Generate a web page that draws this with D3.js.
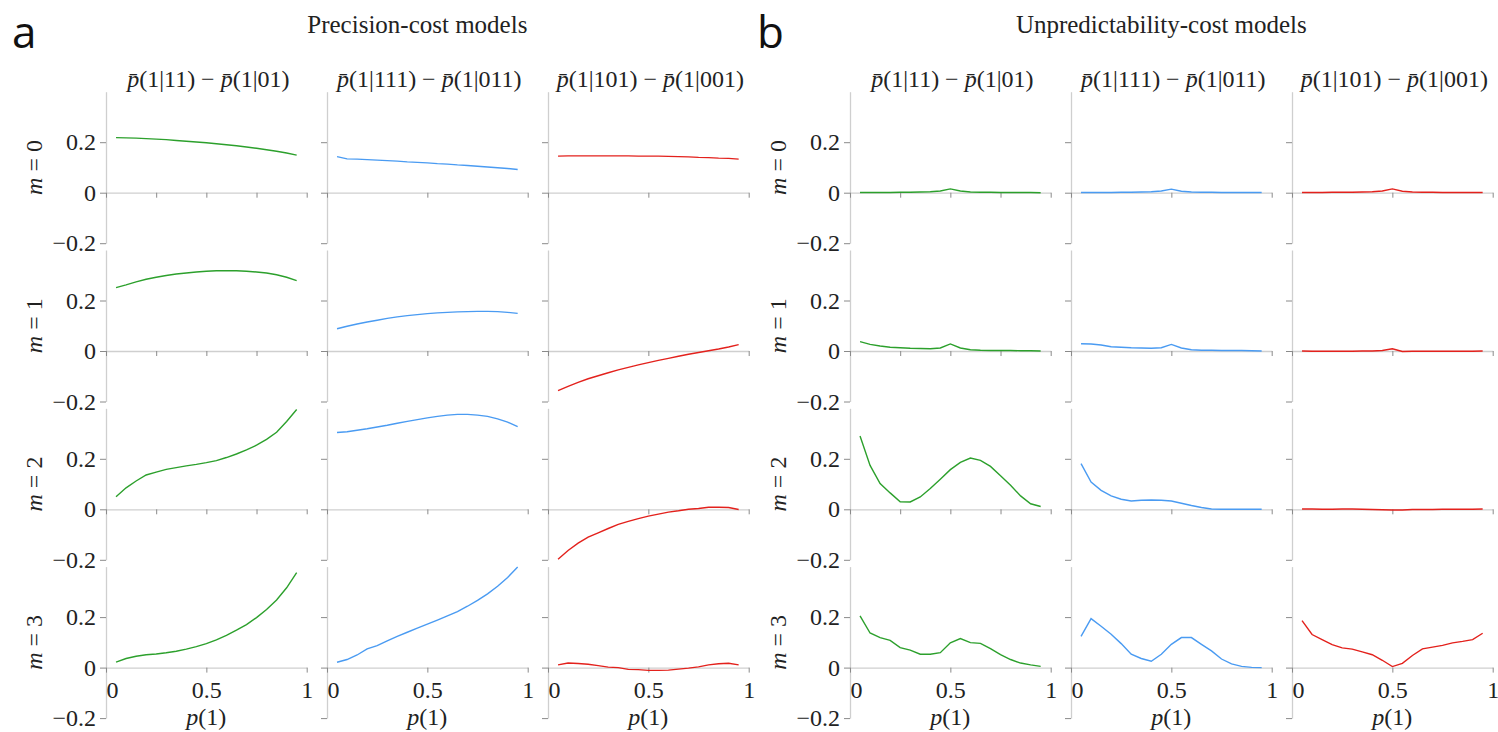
<!DOCTYPE html>
<html>
<head>
<meta charset="utf-8">
<script src="https://cdn.jsdelivr.net/npm/d3@7"></script>
<style>
  body { margin: 0; background: #fff; }
  svg text, svg tspan { font-family: "Liberation Serif", "DejaVu Serif", serif; fill: #222; white-space: pre; }
</style>
</head>
<body>
<div id="chart"></div>
<script>
// p(1) values where every curve is sampled
const pGrid = [0.05, 0.1, 0.15, 0.2, 0.25, 0.3, 0.35, 0.4, 0.45, 0.5,
               0.55, 0.6, 0.65, 0.7, 0.75, 0.8, 0.85, 0.9, 0.95];

const groupLetters = ["a", "b"];
const groupTitles = ["Precision-cost models", "Unpredictability-cost models"];
const colConditions = [["11", "01"], ["111", "011"], ["101", "001"]];
const rowLabels = ["0", "1", "2", "3"];
const yTickValues = [-0.2, 0, 0.2];
const xTickValues = [0, 0.5, 1];
const xTickValuesFine = [0, 0.25, 0.5, 0.75, 1];
const seriesColors = ["#2ca02c", "#4a9bf2", "#e3211c"];

// precision-cost models: [green, blue, red] for each m
const precM0 = [
  [0.218, 0.217, 0.216, 0.214, 0.212, 0.210, 0.207, 0.204, 0.201, 0.198, 0.194, 0.190, 0.186, 0.181, 0.176, 0.170, 0.164, 0.157, 0.149],
  [0.143, 0.134, 0.133, 0.131, 0.129, 0.127, 0.125, 0.122, 0.120, 0.118, 0.115, 0.113, 0.110, 0.108, 0.105, 0.102, 0.099, 0.096, 0.092],
  [0.145, 0.146, 0.146, 0.146, 0.146, 0.146, 0.146, 0.146, 0.145, 0.145, 0.145, 0.144, 0.143, 0.142, 0.140, 0.139, 0.137, 0.136, 0.133]
];
const precM1 = [
  [0.251, 0.262, 0.274, 0.284, 0.292, 0.299, 0.305, 0.309, 0.313, 0.316, 0.318, 0.318, 0.318, 0.316, 0.313, 0.309, 0.302, 0.292, 0.279],
  [0.088, 0.098, 0.107, 0.115, 0.122, 0.129, 0.135, 0.140, 0.144, 0.148, 0.151, 0.153, 0.155, 0.156, 0.157, 0.157, 0.156, 0.153, 0.149],
  [-0.157, -0.140, -0.124, -0.110, -0.098, -0.086, -0.075, -0.065, -0.055, -0.046, -0.037, -0.029, -0.021, -0.013, -0.006, 0.001, 0.008, 0.016, 0.025]
];
const precM2 = [
  [0.050, 0.085, 0.112, 0.136, 0.147, 0.158, 0.165, 0.172, 0.178, 0.185, 0.193, 0.205, 0.219, 0.235, 0.254, 0.277, 0.305, 0.348, 0.395],
  [0.304, 0.307, 0.313, 0.319, 0.326, 0.333, 0.341, 0.348, 0.355, 0.362, 0.368, 0.373, 0.376, 0.376, 0.373, 0.368, 0.358, 0.345, 0.327],
  [-0.198, -0.163, -0.134, -0.110, -0.093, -0.076, -0.060, -0.048, -0.037, -0.027, -0.019, -0.011, -0.006, 0.000, 0.003, 0.008, 0.008, 0.007, -0.001]
];
const precM3 = [
  [0.022, 0.036, 0.045, 0.051, 0.054, 0.059, 0.065, 0.073, 0.083, 0.095, 0.110, 0.128, 0.148, 0.170, 0.198, 0.230, 0.268, 0.316, 0.376],
  [0.021, 0.032, 0.050, 0.074, 0.087, 0.106, 0.124, 0.140, 0.156, 0.172, 0.188, 0.205, 0.222, 0.243, 0.266, 0.292, 0.322, 0.357, 0.398],
  [0.011, 0.018, 0.016, 0.013, 0.008, 0.002, 0.000, -0.007, -0.008, -0.011, -0.011, -0.010, -0.006, -0.002, 0.003, 0.011, 0.015, 0.017, 0.011]
];

// unpredictability-cost models
const unpM0 = [
  [0.001, 0.001, 0.001, 0.001, 0.002, 0.002, 0.003, 0.004, 0.007, 0.015, 0.007, 0.003, 0.002, 0.002, 0.001, 0.001, 0.001, 0.001, 0.000],
  [0.001, 0.001, 0.001, 0.001, 0.002, 0.002, 0.003, 0.004, 0.007, 0.014, 0.006, 0.003, 0.002, 0.002, 0.001, 0.001, 0.001, 0.001, 0.001],
  [0.001, 0.001, 0.001, 0.002, 0.002, 0.002, 0.003, 0.004, 0.007, 0.015, 0.006, 0.003, 0.002, 0.002, 0.001, 0.001, 0.001, 0.001, 0.001]
];
const unpM1 = [
  [0.037, 0.026, 0.020, 0.015, 0.013, 0.011, 0.010, 0.009, 0.012, 0.028, 0.012, 0.005, 0.003, 0.002, 0.002, 0.002, 0.001, 0.001, 0.000],
  [0.029, 0.028, 0.024, 0.017, 0.015, 0.013, 0.012, 0.011, 0.013, 0.026, 0.012, 0.005, 0.003, 0.003, 0.002, 0.002, 0.002, 0.001, 0.000],
  [0.000, -0.001, -0.001, -0.001, -0.001, -0.001, 0.000, 0.000, 0.002, 0.009, -0.002, -0.001, -0.001, -0.001, -0.001, -0.001, -0.001, -0.001, 0.000]
];
const unpM2 = [
  [0.290, 0.174, 0.102, 0.065, 0.030, 0.029, 0.049, 0.082, 0.119, 0.157, 0.186, 0.203, 0.194, 0.170, 0.133, 0.095, 0.053, 0.022, 0.011],
  [0.181, 0.108, 0.075, 0.053, 0.040, 0.033, 0.036, 0.037, 0.036, 0.033, 0.024, 0.015, 0.007, 0.001, 0.000, 0.000, 0.000, 0.000, 0.000],
  [0.001, 0.001, 0.000, 0.000, 0.001, 0.001, 0.000, -0.001, -0.002, -0.003, -0.003, -0.001, -0.001, -0.001, 0.000, 0.000, 0.000, 0.000, 0.001]
];
const unpM3 = [
  [0.205, 0.137, 0.119, 0.108, 0.079, 0.069, 0.053, 0.053, 0.059, 0.098, 0.115, 0.099, 0.096, 0.075, 0.051, 0.032, 0.018, 0.011, 0.005],
  [0.124, 0.194, 0.164, 0.132, 0.095, 0.053, 0.036, 0.025, 0.053, 0.092, 0.119, 0.119, 0.092, 0.066, 0.034, 0.015, 0.005, 0.001, 0.000],
  [0.186, 0.131, 0.111, 0.091, 0.078, 0.073, 0.062, 0.051, 0.029, 0.004, 0.017, 0.048, 0.074, 0.081, 0.088, 0.098, 0.104, 0.111, 0.136]
];

const groups = [
  [precM0, precM1, precM2, precM3],
  [unpM0, unpM1, unpM2, unpM3]
];

document.addEventListener("DOMContentLoaded", function() {
  drawFigure();
});

function drawFigure() {
  const width = 1498;
  const height = 732;
  const groupLeft = [106, 850];
  const colStep = 221;
  const panelW = 200.7;
  const rowTop = 91.7;
  const rowStep = 158.3;
  const panelH = 151.5;
  const axisColor = "#cfcfcf";
  const tickColor = "#8a8a8a";
  const serif = "'Liberation Serif', 'DejaVu Serif', serif";

  const svg = d3.select("#chart")
    .append("svg")
    .attr("width", width)
    .attr("height", height);

  const fmt = d => d === 0 ? "0" : (d < 0 ? "\u2212" : "") + Math.abs(d);

  groups.forEach((rows, gi) => {
    const gx = groupLeft[gi];

    // panel letter and group title
    svg.append("text")
      .attr("x", gx - 94 + (gi === 1 ? 1 : 0))
      .attr("y", 48)
      .style("font-family", "'Open Sans', sans-serif")
      .style("font-size", "44px")
      .style("fill", "#111")
      .text(groupLetters[gi]);

    svg.append("text")
      .attr("x", gx + colStep + panelW / 2 - 10)
      .attr("y", 33)
      .attr("text-anchor", "middle")
      .style("font-family", serif)
      .style("font-size", "25px")
      .text(groupTitles[gi]);

    colConditions.forEach((cond, ci) => {
      const t = svg.append("text")
        .attr("x", gx + ci * colStep + panelW / 2 + 2)
        .attr("y", 87)
        .attr("text-anchor", "middle")
        .style("font-family", serif)
        .style("font-size", "24px");
      t.append("tspan").style("font-style", "italic").text("p\u0304");
      t.append("tspan").text("(1|" + cond[0] + ") \u2212 ");
      t.append("tspan").style("font-style", "italic").text("p\u0304");
      t.append("tspan").text("(1|" + cond[1] + ")");
    });

    rows.forEach((series, ri) => {
      const top = rowTop + ri * rowStep;
      const y = d3.scaleLinear()
        .domain([-0.2, 0.4])
        .range([top + panelH, top]);

      // row label m = k
      const lab = svg.append("text")
        .attr("transform", `translate(${gx - 64},${top + panelH / 2}) rotate(-90)`)
        .attr("text-anchor", "middle")
        .style("font-family", serif)
        .style("font-size", "24px");
      lab.append("tspan").style("font-style", "italic").text("m");
      lab.append("tspan").text(" = " + rowLabels[ri]);

      series.forEach((vals, ci) => {
        const x0 = gx + ci * colStep;
        const x = d3.scaleLinear().domain([0, 1]).range([x0, x0 + panelW]);
        const last = ri === rows.length - 1;

        const yAx = svg.append("g")
          .attr("transform", `translate(${x0},0)`)
          .call(d3.axisLeft(y)
            .tickValues(yTickValues)
            .tickSize(6)
            .tickSizeOuter(0)
            .tickPadding(4)
            .tickFormat(ci === 0 ? fmt : ""));

        const xAx = svg.append("g")
          .attr("transform", `translate(0,${y(0)})`)
          .call(d3.axisBottom(x)
            .tickValues(ci === 0 && !last ? xTickValuesFine : xTickValues)
            .tickSize(5)
            .tickSizeOuter(0)
            .tickPadding(8)
            .tickFormat(last ? fmt : ""));

        [yAx, xAx].forEach(ax => {
          ax.attr("font-family", serif);
          ax.select(".domain").attr("stroke", axisColor).attr("stroke-width", 1.3);
          ax.selectAll(".tick line").attr("stroke", tickColor).attr("stroke-width", 1);
          ax.selectAll(".tick text")
            .attr("fill", "#222")
            .style("font-family", serif)
            .style("font-size", "24px");
        });
        xAx.selectAll(".tick text").filter(d => d === 0).attr("dx", 6);

        if (last) {
          const xl = svg.append("text")
            .attr("x", x(0.5))
            .attr("y", 725)
            .attr("text-anchor", "middle")
            .style("font-family", serif)
            .style("font-size", "24px");
          xl.append("tspan").style("font-style", "italic").text("p");
          xl.append("tspan").text("(1)");
        }

        const line = d3.line()
          .x((d, i) => x(pGrid[i]))
          .y(d => y(d));

        svg.append("path")
          .datum(vals)
          .attr("fill", "none")
          .attr("stroke", seriesColors[ci])
          .attr("stroke-width", 1.4)
          .attr("d", line);
      });
    });
  });
}
</script>
</body>
</html>
